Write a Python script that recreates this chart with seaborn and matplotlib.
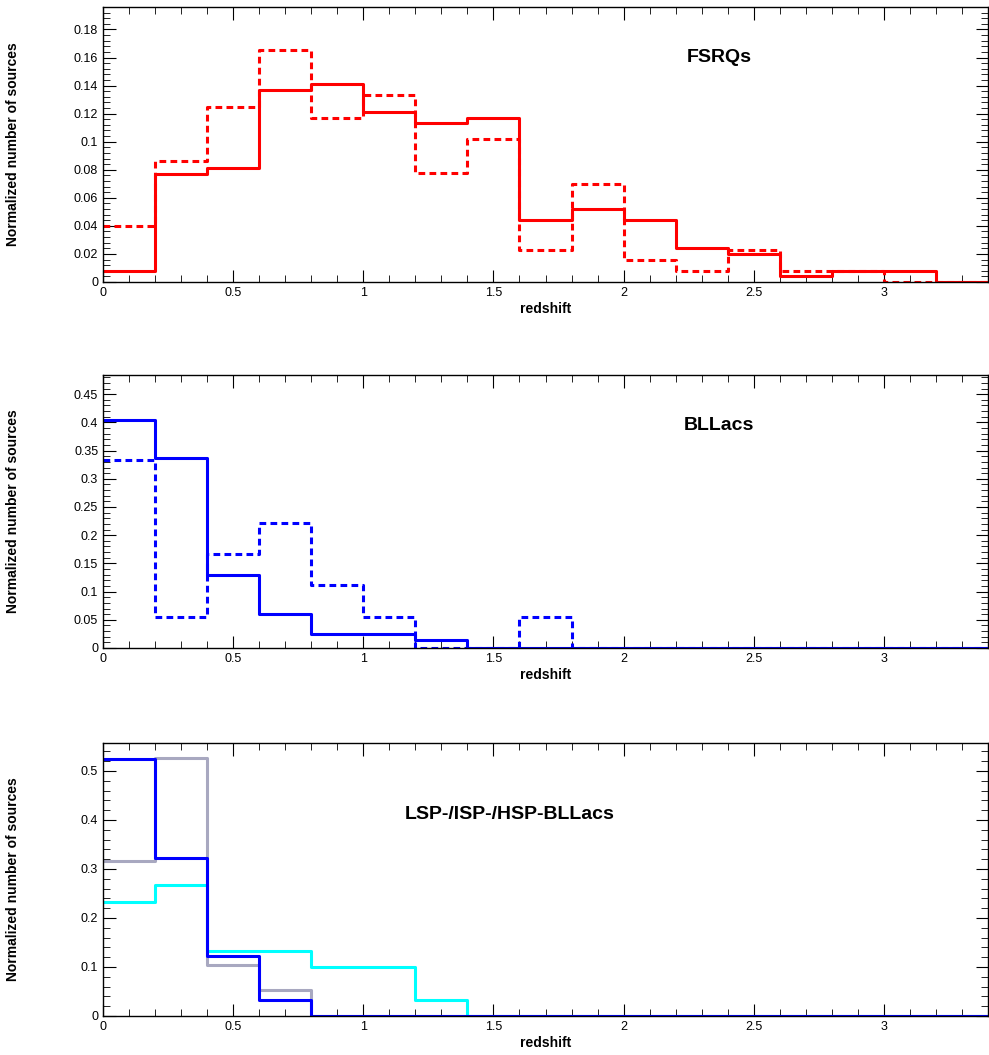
import numpy as np
import pandas as pd
import matplotlib
matplotlib.use("Agg")
import matplotlib.pyplot as plt
import seaborn as sns
from matplotlib.ticker import MultipleLocator

sns.set_style("ticks")
plt.rcParams['font.family'] = ['Liberation Sans', 'DejaVu Sans']
plt.rcParams['text.color'] = 'black'
plt.rcParams['axes.labelcolor'] = 'black'
plt.rcParams['xtick.color'] = 'black'
plt.rcParams['ytick.color'] = 'black'
plt.rcParams['axes.edgecolor'] = 'black'

edges = np.round(np.arange(0, 3.41, 0.2), 2)
centers = (edges[:-1] + edges[1:]) / 2

fsrq_solid = [0.008, 0.077, 0.081, 0.137, 0.141, 0.121, 0.113, 0.117, 0.044, 0.052, 0.044, 0.024, 0.020, 0.004, 0.008, 0.008, 0.0]
fsrq_dash = [0.040, 0.086, 0.125, 0.165, 0.117, 0.133, 0.078, 0.102, 0.023, 0.070, 0.016, 0.008, 0.023, 0.008, 0.008, 0.0, 0.0]
bll_solid = [0.405, 0.337, 0.130, 0.060, 0.025, 0.025, 0.015, 0, 0, 0, 0, 0, 0, 0, 0, 0, 0]
bll_dash = [0.333, 0.055, 0.167, 0.222, 0.111, 0.055, 0, 0, 0.055, 0, 0, 0, 0, 0, 0, 0, 0]
lsp = [0.525, 0.323, 0.123, 0.032, 0, 0, 0, 0, 0, 0, 0, 0, 0, 0, 0, 0, 0]
isp = [0.316, 0.526, 0.105, 0.053, 0, 0, 0, 0, 0, 0, 0, 0, 0, 0, 0, 0, 0]
hsp = [0.233, 0.267, 0.133, 0.133, 0.100, 0.100, 0.033, 0, 0, 0, 0, 0, 0, 0, 0, 0, 0]

W, H = 989, 1055
fig = plt.figure(figsize=(W/100, H/100), dpi=100)

def mkax(top, bottom):
    return fig.add_axes([103/W, 1 - bottom/H, (988-103)/W, (bottom-top)/H])

def step(ax, vals, color, ls='-', lw=2.2):
    df = pd.DataFrame({'z': centers, 'w': vals})
    sns.histplot(data=df, x='z', weights='w', binwidth=0.2, binrange=(0, 3.4), element='step', fill=False,
                 color=color, linestyle=ls, linewidth=lw, ax=ax)

def style(ax, ymax, ymaj, ymin):
    ax.set_xlim(0, 3.4)
    ax.set_ylim(0, ymax)
    ax.xaxis.set_major_locator(MultipleLocator(0.5))
    ax.xaxis.set_minor_locator(MultipleLocator(0.1))
    ax.yaxis.set_major_locator(MultipleLocator(ymaj))
    ax.yaxis.set_minor_locator(MultipleLocator(ymin))
    ax.xaxis.set_major_formatter(matplotlib.ticker.FuncFormatter(lambda v, p: f"{v:g}"))
    ax.yaxis.set_major_formatter(matplotlib.ticker.FuncFormatter(lambda v, p: f"{v:g}"))
    ax.tick_params(which='both', direction='in', top=True, right=True, labelsize=9)
    ax.tick_params(which='major', length=9)
    ax.tick_params(which='minor', length=5)
    ax.set_xlabel('redshift', fontsize=10, fontweight='bold', labelpad=2)
    ax.set_ylabel('Normalized number of sources', fontsize=10, fontweight='bold')
    ax.yaxis.set_label_coords(-0.094, 0.5)
    for s in ax.spines.values():
        s.set_linewidth(1.0)

dash = (0, (2.2, 1.4))

ax1 = mkax(7, 282)
step(ax1, fsrq_dash, 'red', dash)
step(ax1, fsrq_solid, 'red', '-')
style(ax1, 0.196, 0.02, 0.004)
ax1.text(0.696, 0.8, 'FSRQs', transform=ax1.transAxes, ha='center', fontsize=14, fontweight='bold')

ax2 = mkax(375, 648)
step(ax2, bll_dash, 'blue', dash)
step(ax2, bll_solid, 'blue', '-')
style(ax2, 0.484, 0.05, 0.01)
ax2.text(0.696, 0.8, 'BLLacs', transform=ax2.transAxes, ha='center', fontsize=14, fontweight='bold')

ax3 = mkax(743, 1016)
step(ax3, isp, '#a8a8c0', '-')
step(ax3, hsp, 'cyan', '-')
step(ax3, lsp, 'blue', '-')
style(ax3, 0.557, 0.1, 0.02)
ax3.text(0.46, 0.72, 'LSP-/ISP-/HSP-BLLacs', transform=ax3.transAxes, ha='center', fontsize=14, fontweight='bold')

fig.savefig('out.png', dpi=100)
